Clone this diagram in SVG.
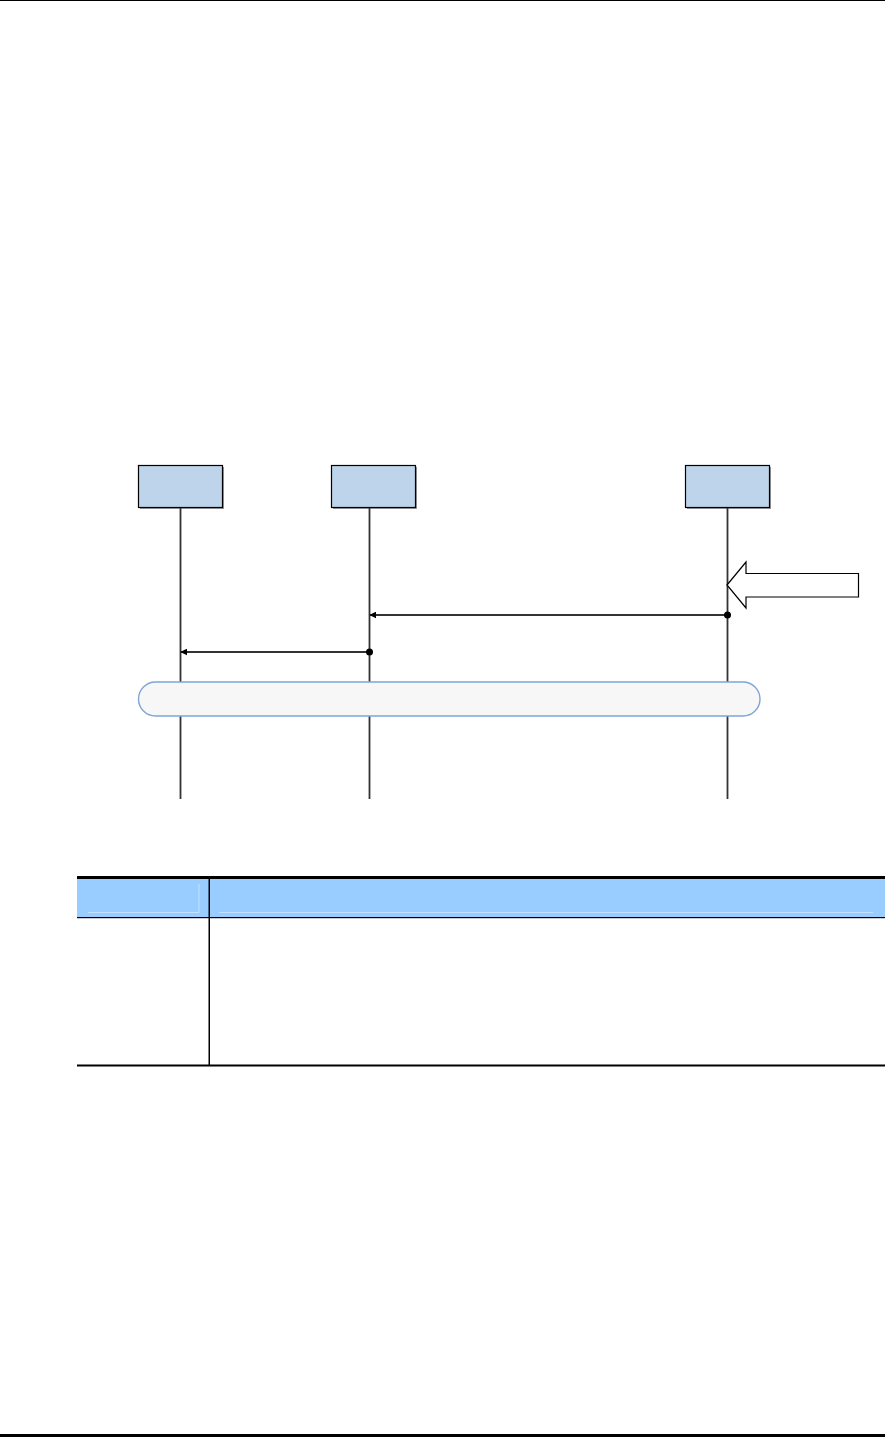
<svg xmlns="http://www.w3.org/2000/svg" width="885" height="1437" viewBox="0 0 885 1437">
<defs>
<style>
.actor{fill:#bed4ea;stroke:#000;stroke-width:1.2}
.shadow{fill:#9a9a9a}
.life{stroke:#333;stroke-width:1.8;fill:none}
.msg{stroke:#333;stroke-width:1.8;fill:none;marker-end:url(#ah)}
.dot{fill:#000}
.rule{fill:#000}
</style>
<marker id="ah" viewBox="0 0 10 10" refX="9" refY="5" markerWidth="7" markerHeight="7" orient="auto" markerUnits="userSpaceOnUse">
<path d="M0,0 L10,5 L0,10 Z" fill="#000"/>
</marker>
</defs>
<rect width="885" height="1437" fill="#fff"/>
<rect class="rule" x="0" y="0" width="885" height="1"/>
<rect class="rule" x="0" y="1434" width="885" height="3"/>

<g id="actor1">
<rect class="shadow" x="140" y="467" width="84" height="42"/>
<rect class="actor" x="138.5" y="465.5" width="84" height="42"/>
</g>
<g id="actor2">
<rect class="shadow" x="333" y="467" width="84" height="42"/>
<rect class="actor" x="331.5" y="465.5" width="84" height="42"/>
</g>
<g id="actor3">
<rect class="shadow" x="687" y="467" width="84" height="42"/>
<rect class="actor" x="685.5" y="465.5" width="84" height="42"/>
</g>

<g id="lifelines">
<line class="life" x1="180.5" y1="508" x2="180.5" y2="799"/>
<line class="life" x1="369.5" y1="508" x2="369.5" y2="799"/>
<line class="life" x1="727.5" y1="508" x2="727.5" y2="799"/>
</g>

<g id="trigger">
<path d="M727,585 L746,562 L746,573.5 L858.5,573.5 L858.5,597 L746,597 L746,608 Z" fill="#fff" stroke="#000" stroke-width="1.2"/>
</g>

<g id="connectors">
<line class="msg" x1="727.5" y1="615" x2="370" y2="615"/>
<circle class="dot" cx="727.5" cy="615" r="3.5"/>
<line class="msg" x1="369.5" y1="652" x2="181" y2="652"/>
<circle class="dot" cx="369.5" cy="652" r="3.5"/>
</g>

<g id="state">
<rect x="138.5" y="682" width="621.5" height="34" rx="17" ry="17" fill="#f7f7f7" stroke="#7ea6d6" stroke-width="1.4"/>
</g>

<g id="table">
<rect x="77" y="879" width="808" height="38.5" fill="#99ccff"/>
<path d="M88,912.5 L199,912.5 L199,884" fill="none" stroke="#c4e2ff" stroke-width="1"/>
<path d="M219,912.5 L873,912.5" fill="none" stroke="#c4e2ff" stroke-width="1"/>
<rect class="rule" x="77" y="876" width="808" height="3"/>
<rect class="rule" x="77" y="917" width="808" height="1.2"/>
<rect class="rule" x="208.5" y="876" width="1.5" height="189"/>
<rect class="rule" x="77" y="1064.5" width="808" height="2"/>
</g>
</svg>
